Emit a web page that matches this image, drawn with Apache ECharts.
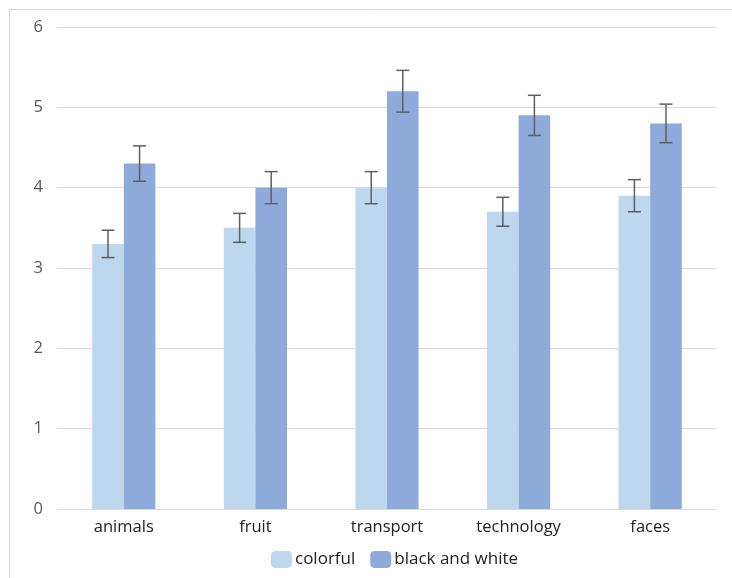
<!DOCTYPE html>
<html>
<head>
<meta charset="utf-8">
<script src="https://cdn.jsdelivr.net/npm/echarts@6/dist/echarts.min.js"></script>
<style>html,body{margin:0;padding:0;background:#fff;}#c{width:732px;height:578px;}</style>
</head>
<body>
<div id="c"></div>
<script>
const categories = ['animals', 'fruit', 'transport', 'technology', 'faces'];
const colorful = [3.3, 3.5, 4.0, 3.7, 3.9];
const blackWhite = [4.3, 4.0, 5.2, 4.9, 4.8];
const errColorful = [0.17, 0.18, 0.2, 0.18, 0.2];
const errBlackWhite = [0.22, 0.2, 0.26, 0.25, 0.24];
const yTicks = [0, 1, 2, 3, 4, 5, 6];

const chart = echarts.init(document.getElementById('c'));
const FONT = 'Open Sans';

function errSeries(name, vals, errs, side) {
  return {
    type: 'custom',
    name: name + ' err',
    z: 10,
    silent: true,
    data: vals.map((v, i) => [i, v - errs[i], v + errs[i]]),
    renderItem: function (params, api) {
      const band = api.size([1, 0])[0];
      const off = side * band * 0.12;
      const lo = api.coord([api.value(0), api.value(1)]);
      const hi = api.coord([api.value(0), api.value(2)]);
      const x = lo[0] + off;
      const cap = 6.5;
      const style = { stroke: '#5f5f5f', lineWidth: 1.5, fill: null };
      return {
        type: 'group',
        children: [
          { type: 'line', shape: { x1: x, y1: lo[1], x2: x, y2: hi[1] }, style: style },
          { type: 'line', shape: { x1: x - cap, y1: lo[1], x2: x + cap, y2: lo[1] }, style: style },
          { type: 'line', shape: { x1: x - cap, y1: hi[1], x2: x + cap, y2: hi[1] }, style: style }
        ]
      };
    }
  };
}

chart.setOption({
  animation: false,
  graphic: [{
    type: 'rect',
    shape: { x: 9.5, y: 9.5, width: 900, height: 900 },
    style: { fill: null, stroke: '#d9d9d9', lineWidth: 1 },
    silent: true
  }],
  grid: { left: 58, right: 16, top: 27, bottom: 69 },
  legend: {
    bottom: 5,
    left: 266,
    itemWidth: 21,
    itemHeight: 17,
    itemGap: 15,
    data: ['colorful', 'black and white'],
    textStyle: { fontFamily: FONT, fontSize: 17, color: '#222', padding: [0, 0, 0, -2] }
  },
  xAxis: {
    type: 'category',
    data: categories,
    axisTick: { show: false },
    axisLine: { lineStyle: { color: '#d9d9d9', width: 1 } },
    axisLabel: { fontFamily: FONT, fontSize: 16.5, color: '#222', margin: 10 }
  },
  yAxis: {
    type: 'value',
    min: yTicks[0],
    max: yTicks[yTicks.length - 1],
    interval: 1,
    splitLine: { lineStyle: { color: '#d9d9d9', width: 1 } },
    axisLine: { show: false },
    axisTick: { show: false },
    axisLabel: { fontFamily: FONT, fontSize: 16.5, color: '#595959', margin: 15 }
  },
  series: [
    {
      name: 'colorful', type: 'bar', data: colorful, barWidth: '24%', barGap: '0%',
      itemStyle: { color: '#bdd7ee' }
    },
    {
      name: 'black and white', type: 'bar', data: blackWhite, barWidth: '24%', barGap: '0%',
      itemStyle: { color: '#8eaadb' }
    },
    errSeries('colorful', colorful, errColorful, -1),
    errSeries('black and white', blackWhite, errBlackWhite, 1)
  ]
});
</script>
</body>
</html>
